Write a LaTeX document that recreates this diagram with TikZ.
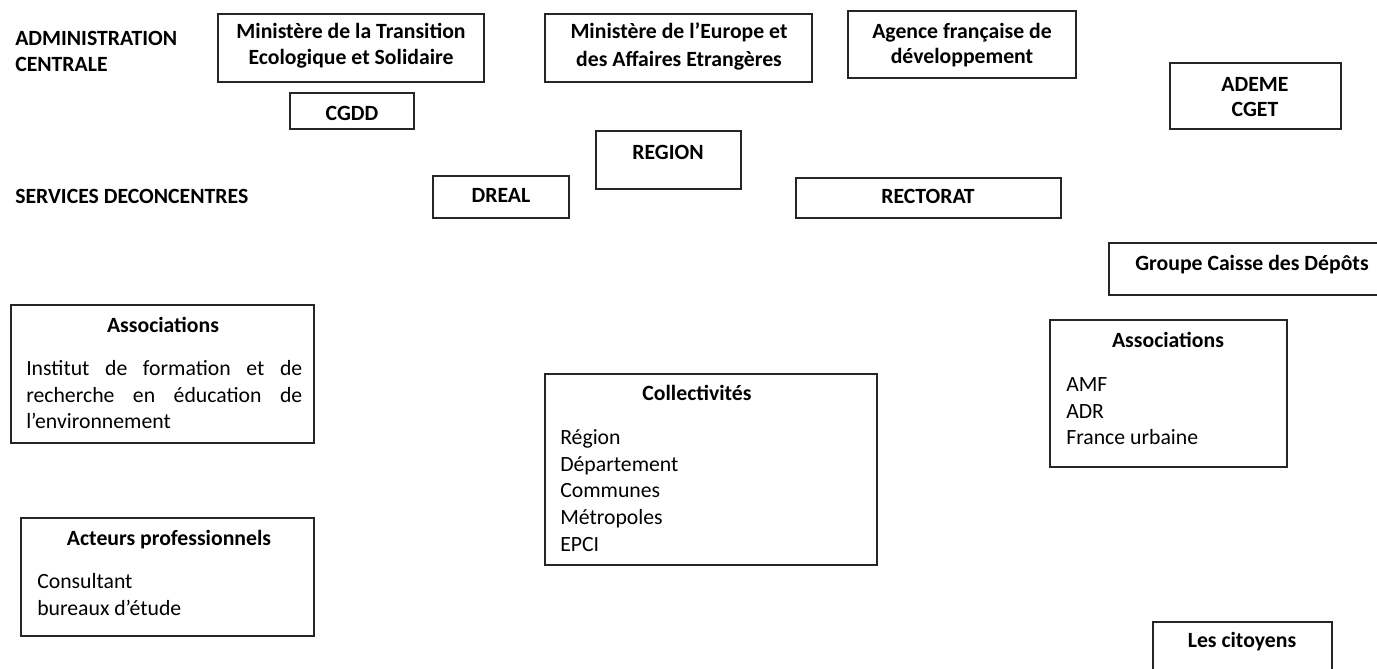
\documentclass[tikz,border=0pt]{standalone}
\usepackage{fontspec}
\setmainfont{Carlito}
\usetikzlibrary{fit}
\begin{document}
\begin{tikzpicture}[x=0.75pt,y=-0.75pt,
  box/.style={draw=black!85,line width=1pt,inner sep=0pt,fit={#1}},
  txt/.style={inner sep=0pt,anchor=base,font=\fontsize{16.3}{19}\selectfont},
  txtl/.style={inner sep=0pt,anchor=base west,font=\fontsize{16.3}{19}\selectfont},
  hd/.style={txt,font=\fontsize{16.3}{19}\selectfont\bfseries},
  hdl/.style={txtl,font=\fontsize{16.3}{19}\selectfont\bfseries}]
\useasboundingbox (0,0) rectangle (1377,668);
% labels
\node[hdl] (adm1) at (15,45) {ADMINISTRATION};
\node[hdl] (adm2) at (15,71) {CENTRALE};
\node[hdl] (serv) at (15,203) {SERVICES DECONCENTRES};
% boxes
\node[box={(218,14) (484,82)}] (mtes) {};
\node[box={(290,93) (414,129)}] (cgdd) {};
\node[box={(545,14) (812,82)}] (meae) {};
\node[box={(848,11) (1076,78)}] (afd) {};
\node[box={(1170,63) (1341,129)}] (ademe) {};
\node[box={(596,131) (741,189)}] (region) {};
\node[box={(433,176) (569,218)}] (dreal) {};
\node[box={(796,178) (1061,218)}] (rect) {};
\node[box={(1109,243) (1390,295)}] (gcd) {};
\node[box={(11,305) (314,443)}] (assocL) {};
\node[box={(1050,320) (1287,467)}] (assocR) {};
\node[box={(545,374) (877,565)}] (coll) {};
\node[box={(21,518) (314,636)}] (acteurs) {};
\node[box={(1153,622) (1332,690)}] (citoyens) {};
% box texts
\node[hd] (mtes1) at (351,38) {Ministère de la Transition};
\node[hd] (mtes2) at (351,64) {Ecologique et Solidaire};
\node[hd] (cgddt) at (352,120) {CGDD};
\node[hd] (meae1) at (679,38) {Ministère de l’Europe et};
\node[hd] (meae2) at (679,66) {des Affaires Etrangères};
\node[hd] (afd1) at (962,38) {Agence française de};
\node[hd] (afd2) at (962,63) {développement};
\node[hd] (ademe1) at (1255,91) {ADEME};
\node[hd] (ademe2) at (1255,116) {CGET};
\node[hd] (regiont) at (668,159) {REGION};
\node[hd] (drealt) at (501,202) {DREAL};
\node[hd] (rectt) at (928,203) {RECTORAT};
\node[hd] (gcdt) at (1252,270) {Groupe Caisse des Dépôts};
\node[hd] (assocLt) at (163,332) {Associations};
\node[txtl] (assocL1) at (26,375) {\makebox[207pt][s]{Institut\hfill de\hfill formation\hfill et\hfill de}};
\node[txtl] (assocL2) at (26,402) {\makebox[207pt][s]{recherche\hfill en\hfill éducation\hfill de}};
\node[txtl] (assocL3) at (26,428) {l’environnement};
\node[hd] (assocRt) at (1168,347) {Associations};
\node[txtl] (assocR1) at (1066,391) {AMF};
\node[txtl] (assocR2) at (1066,418) {ADR};
\node[txtl] (assocR3) at (1066,444) {France urbaine};
\node[hd] (collt) at (697,400) {Collectivités};
\node[txtl] (coll1) at (560,444) {Région};
\node[txtl] (coll2) at (560,471) {Département};
\node[txtl] (coll3) at (560,497) {Communes};
\node[txtl] (coll4) at (560,524) {Métropoles};
\node[txtl] (coll5) at (560,551) {EPCI};
\node[hd] (acteurst) at (169,545) {Acteurs professionnels};
\node[txtl] (act1) at (37,588) {Consultant};
\node[txtl] (act2) at (37,615) {bureaux d’étude};
\node[hd] (citoyenst) at (1242,647) {Les citoyens};
\end{tikzpicture}
\end{document}
